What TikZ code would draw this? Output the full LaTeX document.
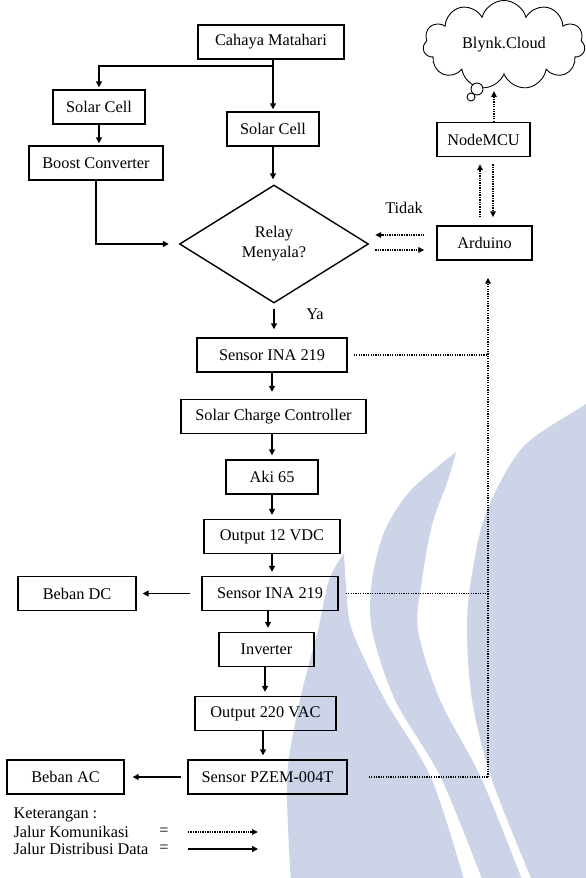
\documentclass[tikz,border=0pt]{standalone}
\usepackage{fontspec}
\setmainfont{Liberation Serif}
\usetikzlibrary{shapes.geometric, shapes.symbols, arrows.meta, calc}
\definecolor{wmblue}{RGB}{206,212,232}
\tikzstyle{blok} = [draw, rectangle, line width=1.4pt, minimum height=34pt, inner sep=0pt]
\tikzstyle{arrw} = [line width=1.4pt, -{Triangle[length=6pt, width=6pt]}]
\tikzstyle{komline} = [line width=1.5pt, dash pattern=on 1.3pt off 1.1pt]
\tikzstyle{komlink} = [komline, -{Triangle[length=6pt, width=5.5pt]}]

\begin{document}
\begin{tikzpicture}[x=1pt, y=-1pt, font=\fontsize{16.3}{20}\selectfont]
    \useasboundingbox (0,0) rectangle (586,878);
    % watermark
    \begin{scope}
        \clip (0,0) rectangle (586,878);
        \fill [wmblue] plot [smooth] coordinates {(344,553) (329,580) (318,630) (300,700) (287,780) (292,900)}
            -- plot [smooth] coordinates {(470,900) (432,780) (385,700) (352,630) (346,585) (344,553)} -- cycle;
        \fill [wmblue] plot [smooth] coordinates {(456,452) (411,490) (385,530) (372,580) (372,630) (395,700) (442,780) (490,900)}
            -- plot [smooth] coordinates {(530,900) (482,780) (440,700) (418,630) (422,580) (432,525) (448,480) (456,452)} -- cycle;
        \fill [wmblue] plot [smooth] coordinates {(600,392) (586,404) (523,447) (486,513) (471,580) (467,630) (472,700) (492,780) (540,900)}
            -- (600,900) -- cycle;
    \end{scope}

    \node (cah) [blok, minimum width=146pt] at (271,42) {Cahaya Matahari};
    \node (sll) [blok, minimum width=92pt] at (99,107) {Solar Cell};
    \node (bst) [blok, minimum width=134pt] at (96,163) {Boost Converter};
    \node (slr) [blok, minimum width=92pt] at (273,129) {Solar Cell};
    \node (rel) [diamond, draw, line width=1.4pt, minimum width=189pt, minimum height=118pt, inner sep=0pt, align=center] at (274,244) {Relay\\Menyala?};
    \node (ard) [blok, minimum width=95pt] at (484.5,243) {Arduino};
    \node (nmc) [blok, minimum width=93pt] at (483.5,139.5) {NodeMCU};
    \node (cld) [cloud, draw, line width=0.9pt, cloud puffs=11, aspect=2, minimum width=162pt, minimum height=82pt] at (504,45) {Blynk.Cloud};
    \draw [line width=0.9pt, fill=white] (477,89) circle (6pt);
    \draw [line width=0.9pt, fill=white] (471,97) circle (4pt);
    \node (ina1) [blok, minimum width=150pt] at (272,355) {Sensor INA 219};
    \node (scc) [blok, minimum width=185pt] at (273.5,416.5) {Solar Charge Controller};
    \node (aki) [blok, minimum width=92pt] at (272,477) {Aki 65};
    \node (o12) [blok, minimum width=136pt] at (272,536.5) {Output 12 VDC};
    \node (ina2) [blok, minimum width=136pt] at (270,593.5) {Sensor INA 219};
    \node (bdc) [blok, minimum width=118pt] at (77,593.5) {Beban DC};
    \node (inv) [blok, minimum width=95pt] at (266.5,649.5) {Inverter};
    \node (o220) [blok, minimum width=141pt] at (265.5,713.5) {Output 220 VAC};
    \node (pzem) [blok, minimum width=159pt] at (267.5,777) {Sensor PZEM-004T};
    \node (bac) [blok, minimum width=117pt] at (65.5,777) {Beban AC};
    \node (ya) at (315,314) {Ya};
    \node (tdk) at (404,208) {Tidak};
    \coordinate (cab) at (273,66);
    \coordinate (bus) at (488,300);

    % jalur distribusi
    \draw [arrw, shorten >=2pt] (cah.south -| slr.north) -- (slr.north);
    \draw [arrw, shorten >=2pt] (cab) -| (sll.north);
    \draw [arrw, shorten >=2pt] (sll.south) -- (sll.south |- bst.north);
    \draw [arrw, shorten >=10pt] (bst.south) |- (rel.west);
    \draw [arrw, shorten >=5pt] (slr.south) -- (slr.south |- rel.north);
    \draw [arrw, shorten <=5pt, shorten >=8pt] (rel.south) -- (rel.south |- ina1.north);
    \draw [arrw, shorten >=7pt] (ina1.south) -- (ina1.south |- scc.north);
    \draw [arrw, shorten >=4pt] (aki.north |- scc.south) -- (aki.north);
    \draw [arrw, shorten >=4pt] (aki.south) -- (o12.north);
    \draw [arrw, shorten >=4pt] (o12.south) -- (o12.south |- ina2.north);
    \draw [arrw, shorten >=4pt] ([xshift=-2pt]ina2.south) -- ([xshift=-2pt]ina2.south |- inv.north);
    \draw [arrw, shorten >=4pt] ([xshift=-1.5pt]inv.south) -- ([xshift=-1.5pt]inv.south |- o220.north);
    \draw [arrw, shorten >=4pt] ([xshift=-2.5pt]o220.south) -- ([xshift=-2.5pt]o220.south |- pzem.north);
    \draw [arrw, shorten <=11pt, shorten >=6pt] (ina2.west) -- (bdc.east);
    \draw [arrw, shorten <=6pt, shorten >=8pt] (pzem.west) -- (bac.east);

    % jalur komunikasi
    \draw [komlink, shorten <=12pt, shorten >=6pt] ([yshift=8pt]ard.west) -- ([yshift=8pt]ard.west -| rel.east);
    \draw [komlink, shorten <=6pt, shorten >=12pt] ([yshift=-7pt]ard.west -| rel.east) -- ([yshift=-7pt]ard.west);
    \draw [komlink, shorten <=8pt, shorten >=7pt] ([xshift=-4.5pt]ard.north) -- ([xshift=-4.5pt]ard.north |- nmc.south);
    \draw [komlink, shorten <=7pt, shorten >=8pt] ([xshift=9.5pt]nmc.south) -- ([xshift=9.5pt]nmc.south |- ard.north);
    \draw [komlink, shorten >=16pt] ([xshift=10.5pt]nmc.north) -- ([xshift=10.5pt]nmc.north |- cld.south);
    \draw [komline, shorten <=6pt] (ina1.east) -- (ina1.east -| bus);
    \draw [komline, shorten <=7pt] (ina2.east) -- (ina2.east -| bus);
    \draw [komline, shorten <=21pt] (pzem.east) -- (pzem.east -| bus);
    \draw [komlink, shorten >=17pt] (pzem.east -| bus) -- (ard.south -| bus);

    % keterangan
    \node (ket) [anchor=west] at (10,815) {Keterangan :};
    \node (jk) [anchor=west] at (10,832) {Jalur Komunikasi};
    \node (jd) [anchor=west] at (10,849) {Jalur Distribusi Data};
    \node (eq1) at (164,832) {=};
    \node (eq2) at (164,849) {=};
    \coordinate (k1) at (188,832);
    \coordinate (k2) at (258,832);
    \coordinate (d1) at (188,849);
    \coordinate (d2) at (258,849);
    \draw [komlink] (k1) -- (k2);
    \draw [arrw] (d1) -- (d2);
\end{tikzpicture}
\end{document}
